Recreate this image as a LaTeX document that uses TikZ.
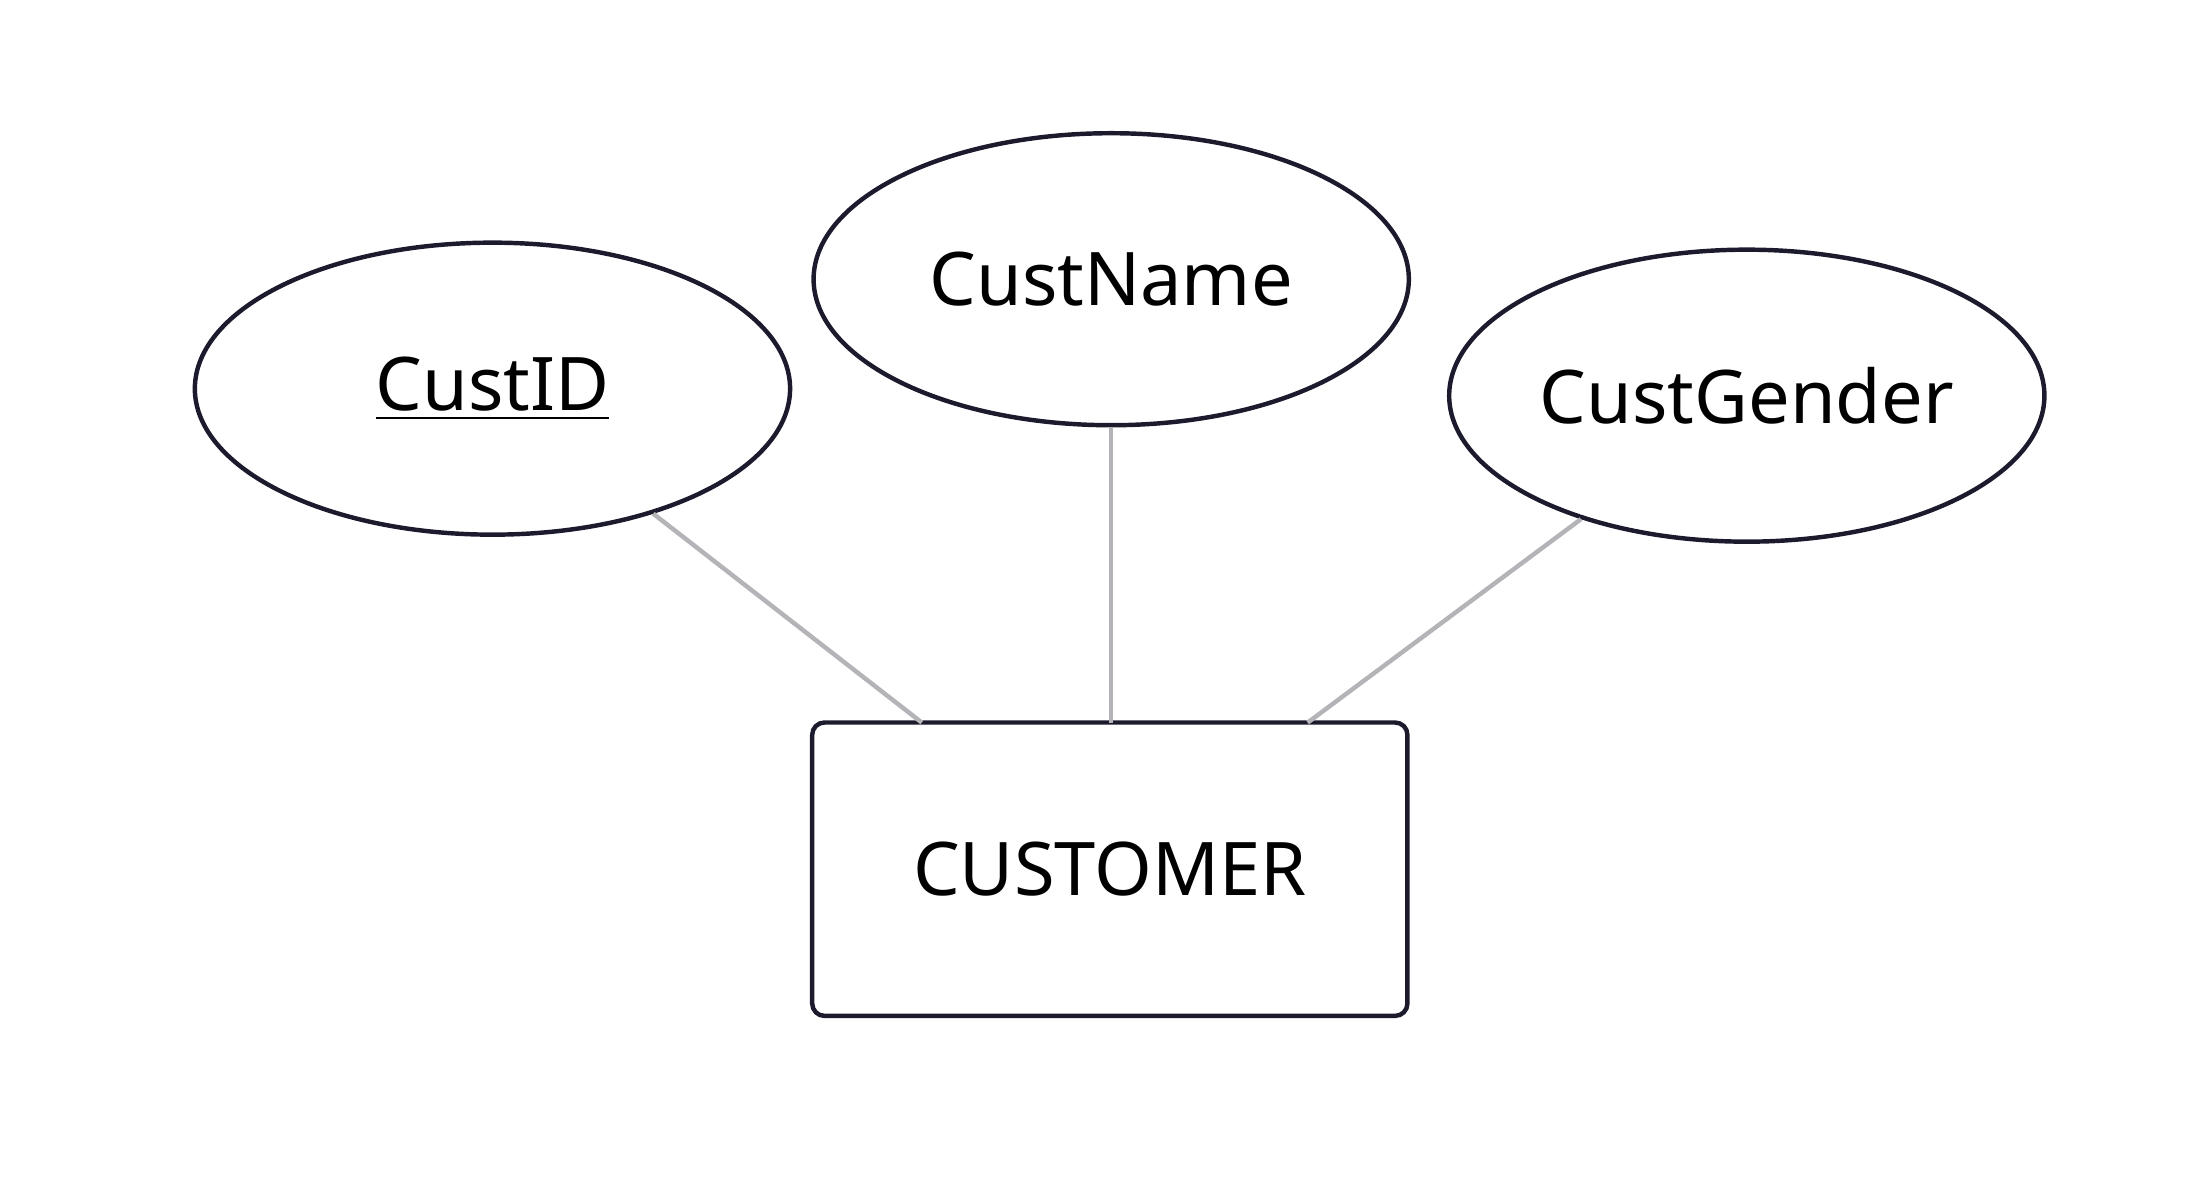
\documentclass[tikz,border=0pt]{standalone}
\usepackage{fontspec}
\setmainfont{Noto Sans}
\usetikzlibrary{shapes.geometric}
\definecolor{ink}{HTML}{1C1B2E}
\definecolor{conn}{HTML}{B4B4B8}
\begin{document}
\begin{tikzpicture}[x=0.01cm,y=-0.01cm,
  attr/.style={draw=ink,line width=0.9pt,ellipse,minimum width=4.24cm,minimum height=2.08cm,inner sep=0pt,font=\fontsize{15}{18}\selectfont},
  ent/.style={draw=ink,line width=0.9pt,rounded corners=2.5pt,minimum width=4.24cm,minimum height=2.09cm,inner sep=0pt,font=\fontsize{15}{18}\selectfont},
  link/.style={draw=conn,line width=0.9pt}]
\useasboundingbox (0,0) rectangle (1568,848);
\node[ent] (cust) at (791,619.5) {CUSTOMER};
\node[attr] (id) at (351,277) {\underline{CustID}};
\node[attr] (name) at (792,199) {CustName};
\node[attr] (gender) at (1245,282) {CustGender};
\coordinate (c1) at (657,515);
\coordinate (c2) at (792,515);
\coordinate (c3) at (932,515);
\draw[link] (id) -- (c1);
\draw[link] (name) -- (c2);
\draw[link] (gender) -- (c3);
\end{tikzpicture}
\end{document}
